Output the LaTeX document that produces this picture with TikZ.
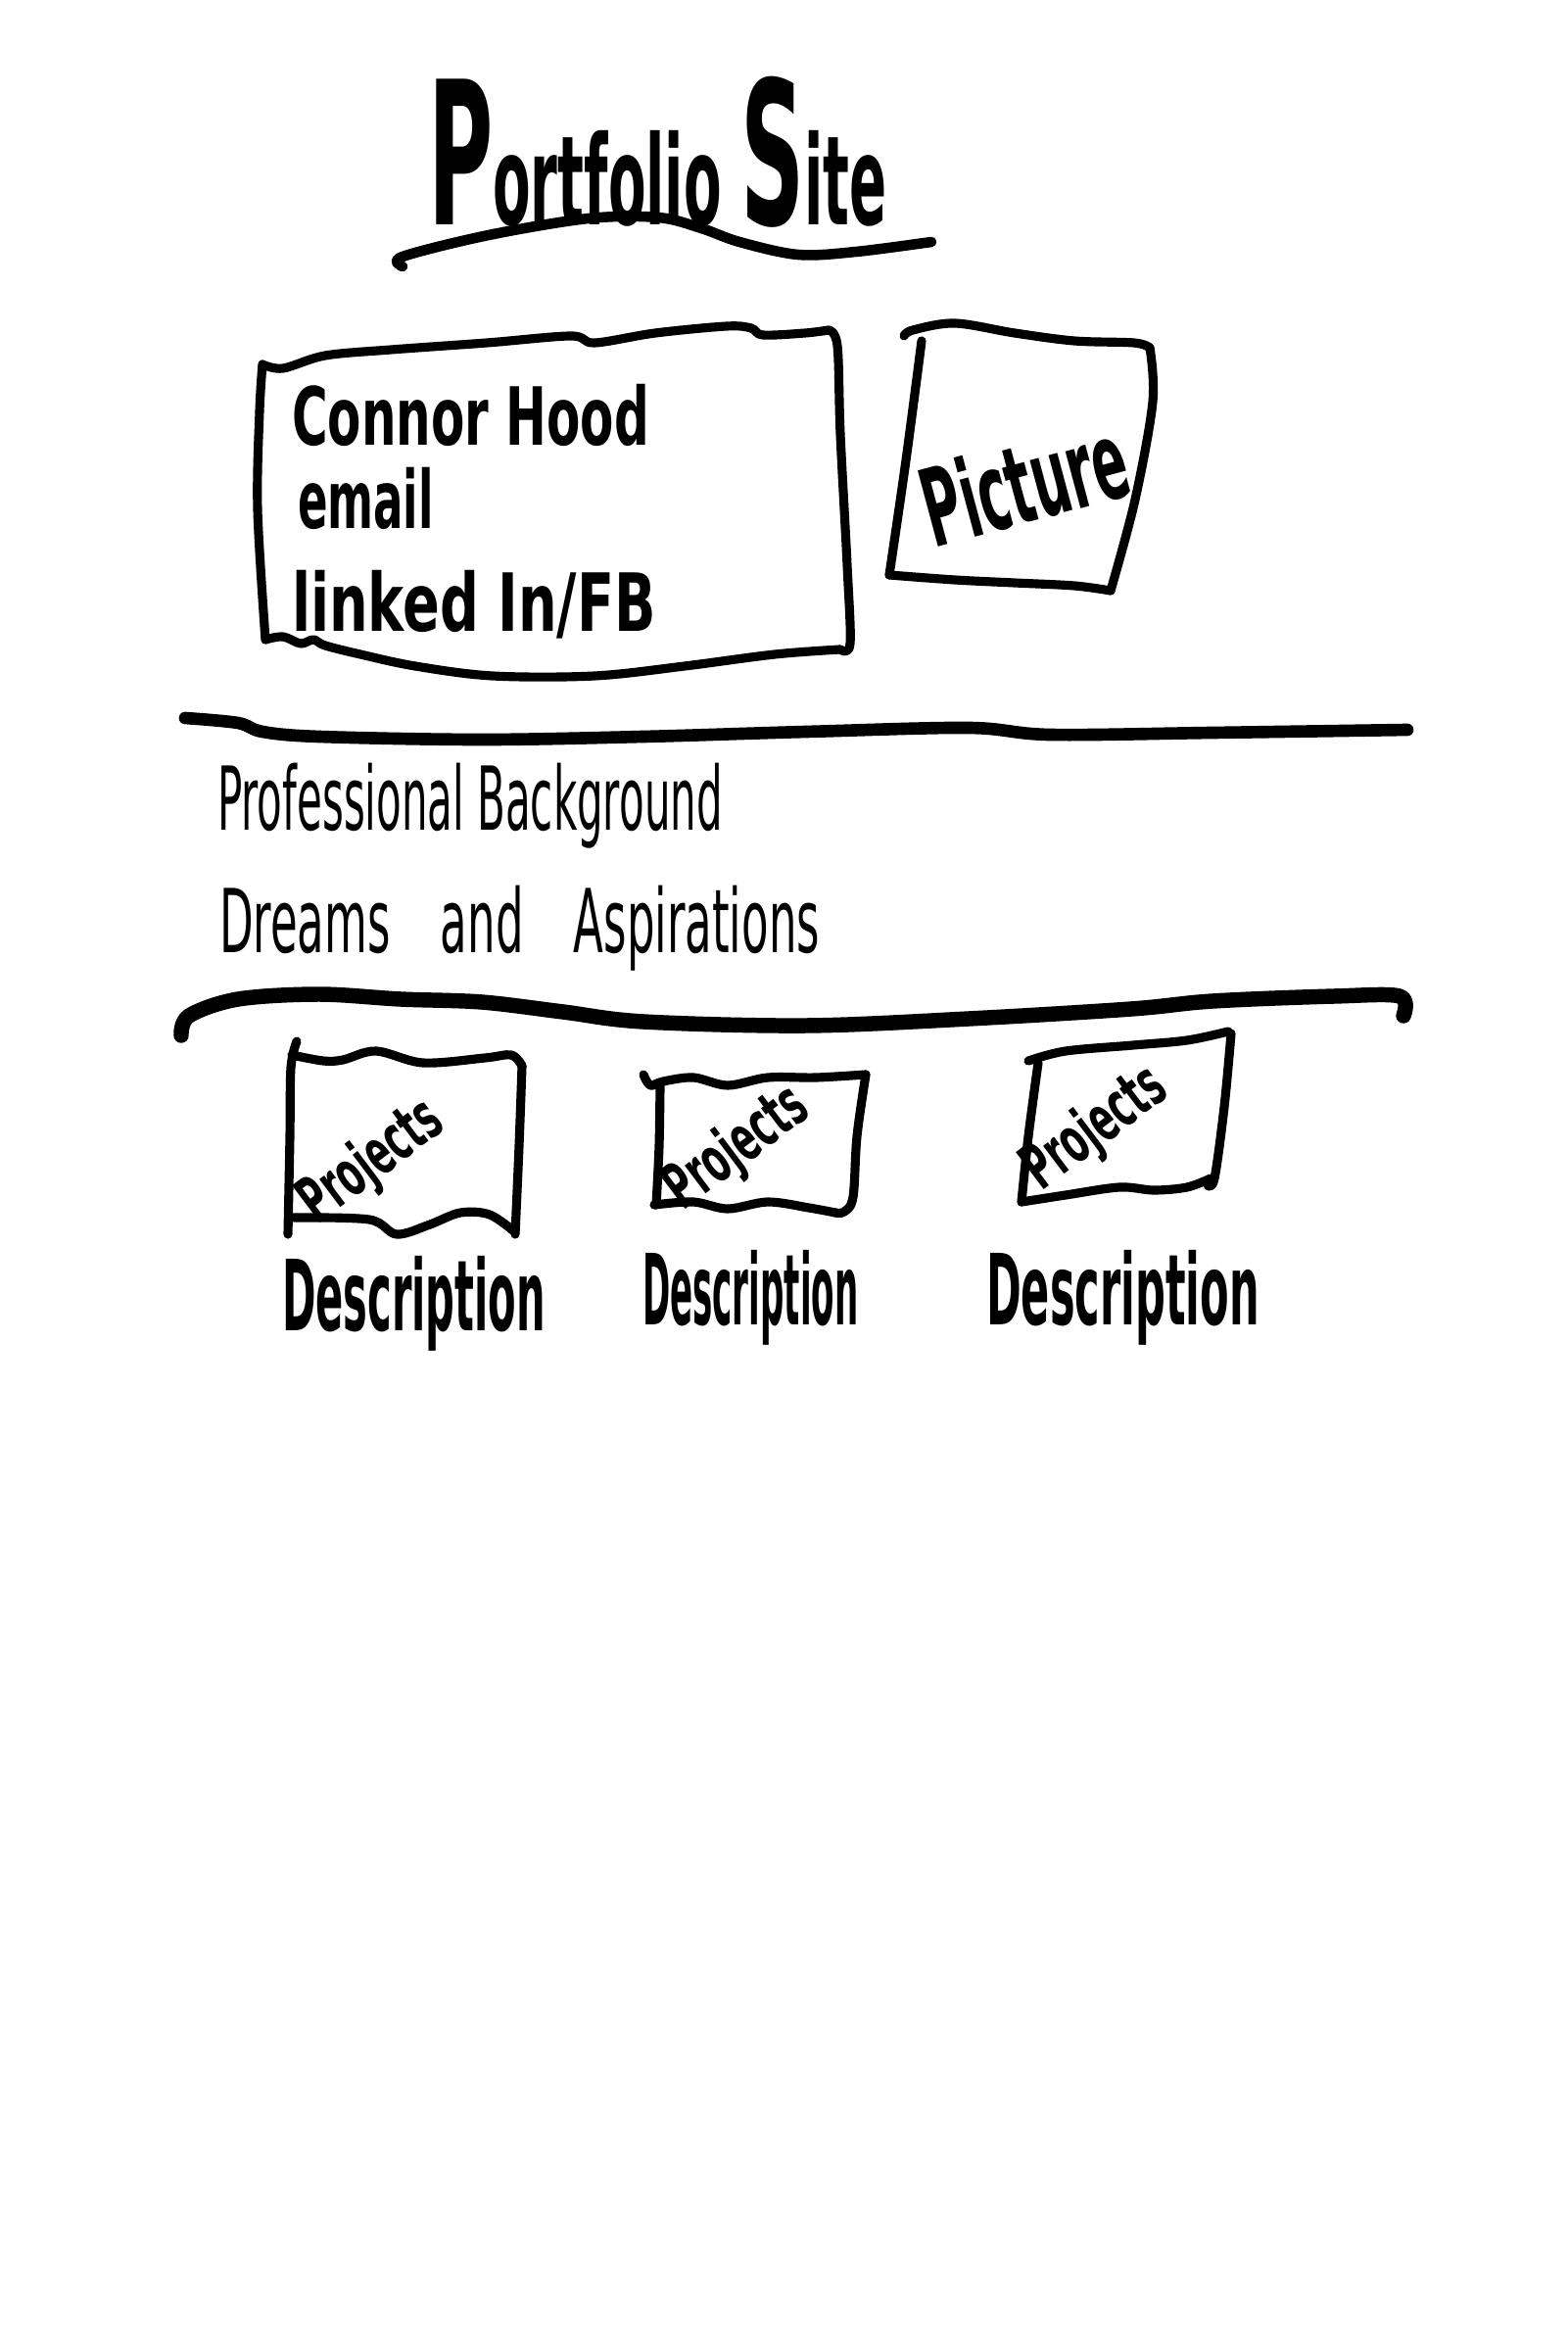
\documentclass[tikz,border=0pt]{standalone}
\usepackage{fontspec}
\setmainfont{DejaVu Sans}
\newcommand{\hwtext}[3]{{\fontspec{DejaVu Sans}[FakeStretch=#1]\fontsize{#2}{#2}\selectfont #3}}
\begin{document}
\begin{tikzpicture}[x=0.01cm,y=-0.01cm,
  pen/.style={line width=2.6pt,line cap=round,line join=round},
  rule/.style={line width=3.6pt,line cap=round,line join=round},
  boldrule/.style={line width=4.4pt,line cap=round,line join=round},
  lbl/.style={inner sep=0pt,outer sep=0pt},
  sm/.style={smooth,tension=0.55}]
\useasboundingbox (0,0) rectangle (1600,2398);
\fill[white] (0,0) rectangle (1600,2398);

% title
\node[lbl,anchor=base west] (title) at (437,230) {\hwtext{0.444}{36}{\bfseries{\fontsize{58}{58}\selectfont P}ortfolio {\fontsize{58}{58}\selectfont S}ite}};
\draw[pen,line width=3pt] plot[sm] coordinates {(411,272) (411,262) (499,240) (601,223) (672,222) (716,233) (755,247) (815,260) (874,257) (951,247)};

% contact box
\draw[pen] plot[sm] coordinates {(268,372) (289,376) (332,363) (399,357) (497,350) (583,343) (607,350) (669,340) (742,333) (767,335) (779,342) (822,340) (846,337)};
\draw[pen] plot[sm] coordinates {(846,337) (855,353) (858,443) (865,577) (868,657) (858,663)};
\draw[pen] plot[sm] coordinates {(858,663) (791,668) (699,680) (607,690) (503,690) (424,680) (368,668) (332,659) (320,653) (307,657) (289,650) (271,653)};
\draw[pen] plot[sm] coordinates {(271,653) (263,520) (265,420) (268,372)};
\node[lbl,anchor=base west] (name) at (298,455) {\hwtext{0.61}{23.3}{\bfseries Connor Hood}};
\node[lbl,anchor=base west] (email) at (304,540) {\hwtext{0.55}{23.3}{\bfseries email}};
\node[lbl,anchor=base west] (linked) at (298,645) {\hwtext{0.68}{23.3}{\bfseries linked In/FB}};

% picture box
\draw[pen] plot[sm] coordinates {(923,343) (932,337) (975,330) (1036,340) (1097,348) (1158,350) (1174,355)};
\draw[pen] plot[sm] coordinates {(1174,355) (1177,410) (1159,510) (1134,603)};
\draw[pen] plot[sm] coordinates {(1134,603) (1097,598) (1036,595) (975,592) (908,587)};
\draw[pen] plot[sm] coordinates {(908,587) (925,470) (941,348)};
\node[lbl,rotate=15] (picture) at (1046,492) {\hwtext{0.48}{31.3}{\bfseries Picture}};

% rule 1
\draw[rule] plot[sm] coordinates {(189,733) (243,738) (268,747) (326,752) (492,755) (657,752) (823,747) (989,743) (1072,750) (1238,748) (1437,745)};

\node[lbl,anchor=base west] (prof) at (222,847) {\hwtext{0.466}{25.6}{Professional Background}};
\node[lbl,anchor=base west] (dreams) at (224,972) {\hwtext{0.5}{25.6}{Dreams \hspace{10.5pt}and \hspace{10.5pt}Aspirations}};

% rule 2
\draw[boldrule] plot[sm] coordinates {(185,1057) (193,1037) (243,1020) (326,1015) (409,1020) (492,1023) (575,1033) (657,1043) (823,1047) (989,1040) (1155,1030) (1238,1022) (1362,1017) (1429,1017) (1433,1037)};

% project box 1
\draw[pen] plot[sm] coordinates {(303,1063) (297,1090) (296,1160) (294,1260)};
\draw[pen] plot[sm] coordinates {(298,1077) (330,1083) (350,1082) (384,1073) (432,1085) (495,1080) (522,1077) (533,1088)};
\draw[pen] plot[sm] coordinates {(533,1088) (530,1170) (526,1260)};
\draw[pen] plot[sm] coordinates {(300,1243) (377,1245) (405,1260) (439,1250) (470,1238) (500,1240) (526,1258)};
\node[lbl,rotate=37] (proj1) at (380,1187) {\hwtext{0.55}{18.5}{\bfseries Projects}};

% project box 2
\draw[pen] plot[sm] coordinates {(657,1097) (664,1108) (677,1104) (708,1100) (743,1108) (784,1100) (833,1100) (884,1097)};
\draw[pen] plot[sm] coordinates {(674,1107) (673,1170) (670,1230)};
\draw[pen] plot[sm] coordinates {(884,1097) (875,1160) (871,1222) (862,1237) (853,1238)};
\draw[pen] plot[sm] coordinates {(668,1230) (708,1227) (743,1234) (784,1227) (826,1233) (853,1238)};
\node[lbl,rotate=37] (proj2) at (753,1173) {\hwtext{0.55}{18.5}{\bfseries Projects}};

% project box 3
\draw[pen] plot[sm] coordinates {(1050,1083) (1088,1073) (1157,1067) (1212,1062) (1254,1053)};
\draw[pen] plot[sm] coordinates {(1060,1085) (1050,1160) (1043,1227)};
\draw[pen] plot[sm] coordinates {(1257,1055) (1250,1130) (1240,1203) (1233,1210)};
\draw[pen] plot[sm] coordinates {(1043,1227) (1088,1220) (1143,1212) (1178,1215) (1212,1212) (1236,1203)};
\node[lbl,rotate=37] (proj3) at (1119,1153) {\hwtext{0.55}{18.5}{\bfseries Projects}};

% descriptions
\node[lbl,anchor=base west] (desc1) at (288,1358) {\hwtext{0.415}{28.5}{\bfseries Description}};
\node[lbl,anchor=base west] (desc2) at (656,1352) {\hwtext{0.34}{28.5}{\bfseries Description}};
\node[lbl,anchor=base west] (desc3) at (1007,1352) {\hwtext{0.43}{28.5}{\bfseries Description}};
\end{tikzpicture}
\end{document}
